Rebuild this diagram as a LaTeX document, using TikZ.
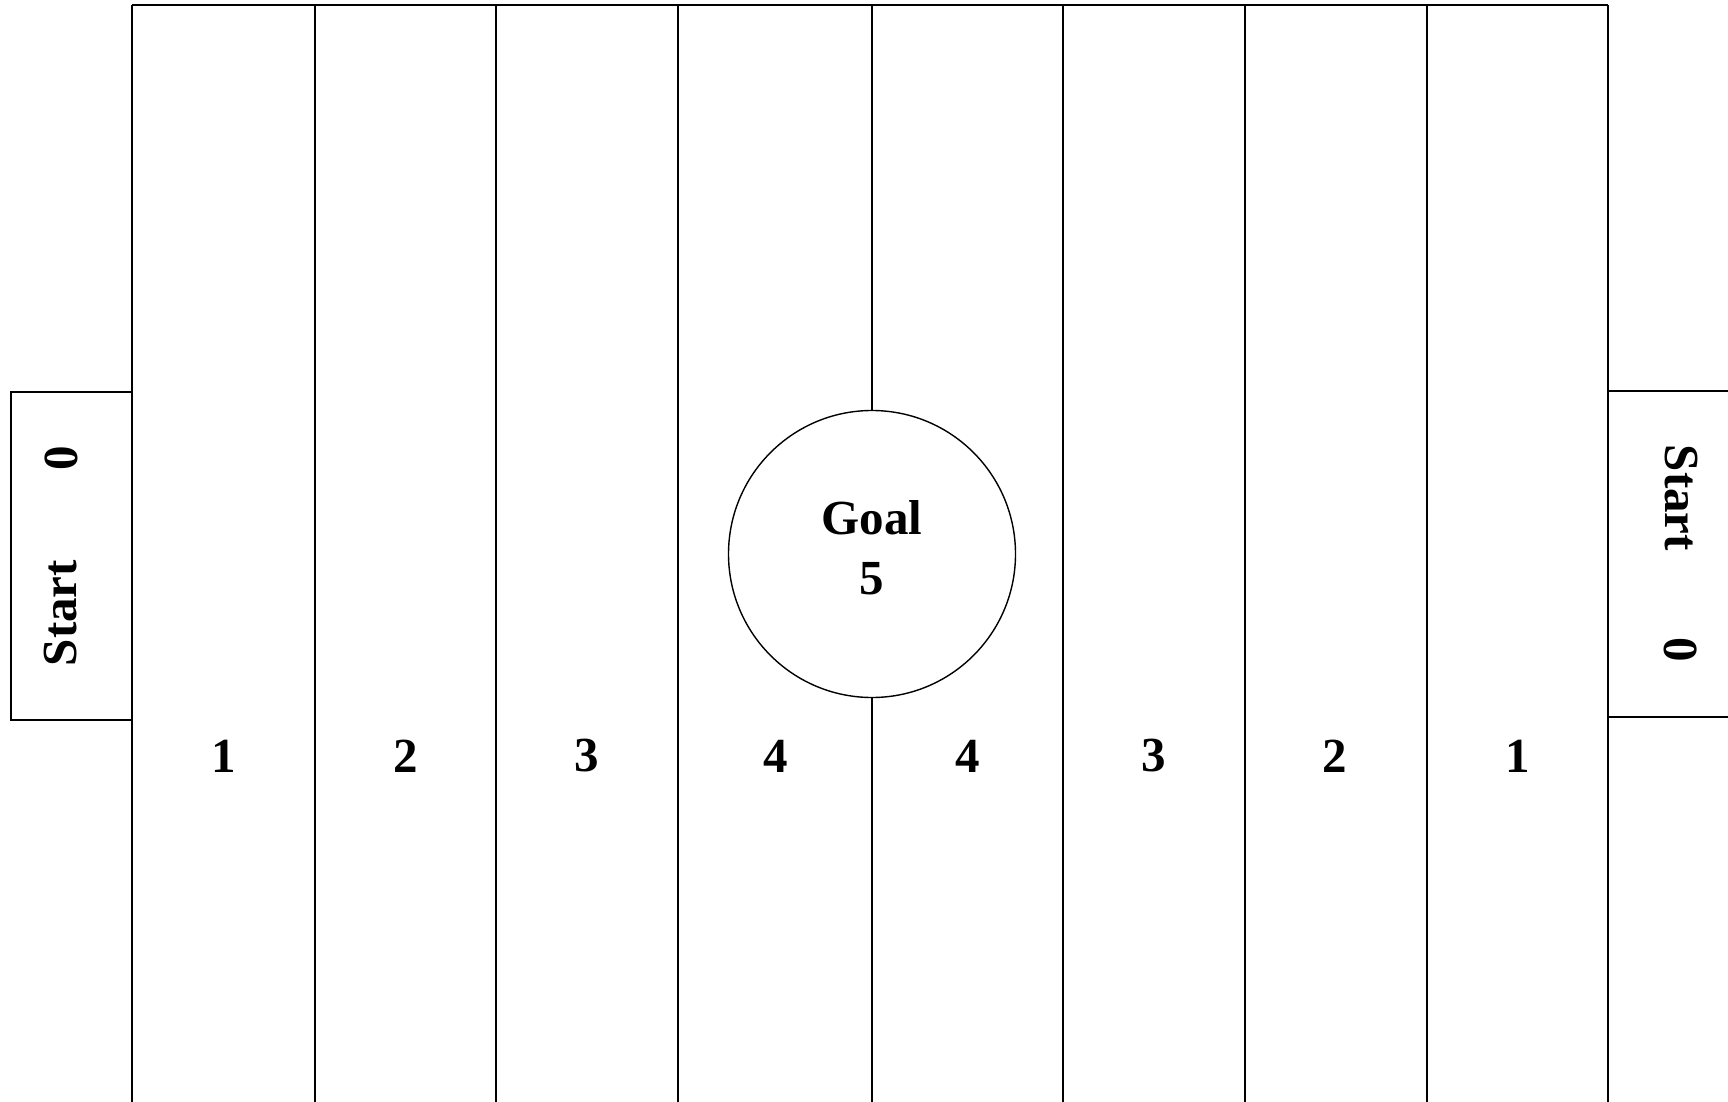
\documentclass[tikz,border=0pt]{standalone}
\usepackage{fontspec}
\setmainfont{Liberation Serif}
\begin{document}
\begin{tikzpicture}[x=1pt,y=-1pt,
  field/.style={draw=black,line width=1.5pt},
  lbl/.style={font=\fontsize{49}{60}\selectfont\bfseries,inner sep=0pt},
  goalnode/.style={circle,draw=black,line width=1.4pt,minimum size=287pt,inner sep=0pt}]
\useasboundingbox (0,0) rectangle (1728,1102);
% field lines
\coordinate (t0) at (132,5);
\coordinate (t8) at (1608,5);
\draw[field] (t0) -- (t8);
\foreach \x/\n in {132/a,315/b,496/c,678/d,1063/f,1245/g,1427/h,1608/i}{
  \coordinate (top\n) at (\x,5);
  \coordinate (bot\n) at (\x,1102);
  \draw[field] (top\n) -- (bot\n);
}
% goal
\node[goalnode] (goal) at (872,554) {};
\node[lbl,align=center] (goaltext) at (872,548) {Goal\\5};
\coordinate (tope) at (872,5);
\coordinate (bote) at (872,1102);
\draw[field] (tope) -- (goal.north);
\draw[field] (goal.south) -- (bote);
% left start box
\coordinate (l1) at (132,392);
\coordinate (l2) at (11,392);
\coordinate (l3) at (11,720);
\coordinate (l4) at (132,720);
\draw[field] (l1) -- (l2) -- (l3) -- (l4);
\node[lbl,rotate=90] (lstart) at (61,613) {Start};
\node[lbl,rotate=90] (lzero) at (61,458) {0};
% right start box
\coordinate (r1) at (1608,391);
\coordinate (r2) at (1728,391);
\coordinate (r3) at (1608,717);
\coordinate (r4) at (1728,717);
\draw[field] (r1) -- (r2);
\draw[field] (r3) -- (r4);
\node[lbl,rotate=-90] (rstart) at (1681,498) {Start};
\node[lbl,rotate=-90] (rzero) at (1681,650) {0};
% column numbers
\foreach \x/\t/\n in {224/1/n1,406/2/n2,587/3/n3,776/4/n4,968/4/n5,1154/3/n6,1335/2/n7,1518/1/n8}{
  \node[lbl] (\n) at (\x,756) {\t};
}
\end{tikzpicture}
\end{document}
